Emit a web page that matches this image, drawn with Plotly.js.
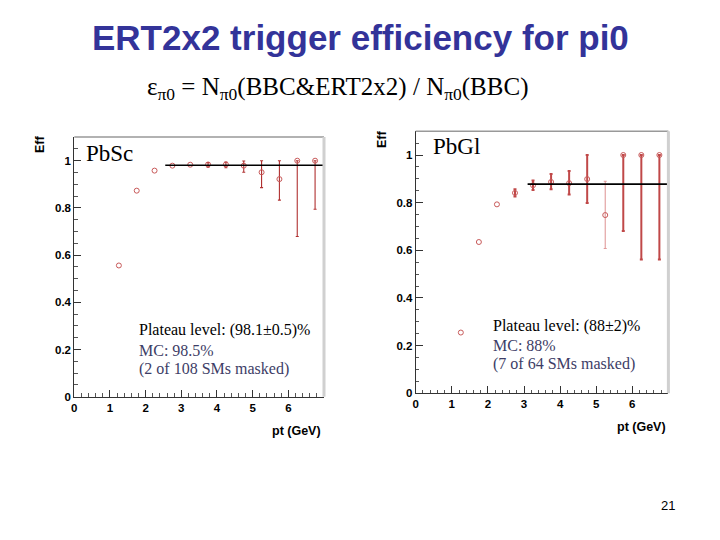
<!DOCTYPE html>
<html><head><meta charset="utf-8">
<script src="https://cdn.plot.ly/plotly-3.0.1.min.js"></script>
<style>html,body{margin:0;padding:0;background:#fff}#c{width:720px;height:540px}</style>
</head><body><div id="c"></div>
<script>
// pt bin centres (GeV)
const pt = [1.25, 1.75, 2.25, 2.75, 3.25, 3.75, 4.25, 4.75, 5.25, 5.75, 6.25, 6.75];
// PbSc efficiency (NaN = error bar too small to be drawn)
const effPbSc   = [0.556, 0.873, 0.958, 0.979, 0.983, 0.984, 0.984, 0.979, 0.951, 0.922, 1.0, 1.0];
const errHiPbSc = [NaN, NaN, NaN, NaN, NaN, 0.008, 0.010, 0.020, 0.049, 0.078, 0, 0];
const errLoPbSc = [NaN, NaN, NaN, NaN, NaN, 0.012, 0.014, 0.028, 0.065, 0.089, 0.321, 0.206];
const fitPbScX = [2.55, 7.0];
const fitPbScY = [0.981, 0.981];
// PbGl efficiency
const effPbGl   = [0.255, 0.635, 0.793, 0.841, 0.873, 0.887, 0.882, 0.899, 0.748, 1.0, 1.0, 1.0];
const errHiPbGl = [NaN, NaN, NaN, 0.015, 0.020, 0.033, 0.051, 0.101, 0.142, 0, 0, 0];
const errLoPbGl = [NaN, NaN, NaN, 0.015, 0.020, 0.031, 0.048, 0.100, 0.140, 0.319, 0.438, 0.438];
const pbGlFaintBars = [8];   // index of the bin drawn with a faint error bar
const fitPbGlX = [3.1, 7.0];
const fitPbGlY = [0.878, 0.878];
const xTicks = [0, 1, 2, 3, 4, 5, 6];
const yTicks = [0, 0.2, 0.4, 0.6, 0.8, 1];
const yTickText = ['0', '0.2', '0.4', '0.6', '0.8', '1'];

const W = 720, H = 540;
const px = v => v / W, py = v => 1 - v / H;

function pts(x, y, hi, lo, xa, ya, ecol, eth) {
  return {
    type: 'scatter', mode: 'markers', x: x, y: y, xaxis: xa, yaxis: ya,
    marker: {symbol: 'circle-open', size: 5, color: '#c85a5a', line: {width: 1}},
    error_y: {type: 'data', symmetric: false, array: hi, arrayminus: lo,
              color: ecol, thickness: eth, width: 1.5},
    showlegend: false, hoverinfo: 'skip'
  };
}
function fit(x, y, xa, ya) {
  return {type: 'scatter', mode: 'lines', x: x, y: y, xaxis: xa, yaxis: ya,
          line: {color: '#000', width: 1.6}, showlegend: false, hoverinfo: 'skip'};
}
const keep = (arr, idx, inSet) => arr.map((v, i) => (pbGlFaintBars.includes(i) === inSet) ? v : NaN);
const mainIdx = false, faintIdx = true;

const data = [
  pts(pt, effPbSc, errHiPbSc, errLoPbSc, 'x', 'y', '#b03030', 1.1),
  fit(fitPbScX, fitPbScY, 'x', 'y'),
  pts(pt.filter((v, i) => !pbGlFaintBars.includes(i)),
      effPbGl.filter((v, i) => !pbGlFaintBars.includes(i)),
      errHiPbGl.filter((v, i) => !pbGlFaintBars.includes(i)),
      errLoPbGl.filter((v, i) => !pbGlFaintBars.includes(i)), 'x2', 'y2', '#c04848', 2),
  pts(pt.filter((v, i) => pbGlFaintBars.includes(i)),
      effPbGl.filter((v, i) => pbGlFaintBars.includes(i)),
      errHiPbGl.filter((v, i) => pbGlFaintBars.includes(i)),
      errLoPbGl.filter((v, i) => pbGlFaintBars.includes(i)), 'x2', 'y2', '#e09a9a', 1.1),
  fit(fitPbGlX, fitPbGlY, 'x2', 'y2')
];

const tickFont = {family: 'Liberation Sans, Arial, sans-serif', size: 11.5, color: '#000', weight: 'bold'};
function xax(d0, d1, anchor) {
  return {domain: [d0, d1], anchor: anchor, range: [0, 7], tickvals: xTicks,
          ticks: 'inside', ticklen: 7, tickcolor: '#333', showgrid: false, zeroline: false,
          showline: true, linecolor: '#333', linewidth: 1, tickfont: tickFont,
          minor: {dtick: 0.2, ticks: 'inside', ticklen: 3.5, tickcolor: '#555', showgrid: false}};
}
function yax(d0, d1, anchor) {
  return {domain: [d0, d1], anchor: anchor, range: [0, 1.1], tickvals: yTicks, ticktext: yTickText,
          ticks: 'inside', ticklen: 7, tickcolor: '#333', showgrid: false, zeroline: false,
          showline: true, linecolor: '#333', linewidth: 1, tickfont: tickFont,
          minor: {dtick: 0.05, ticks: 'inside', ticklen: 3.5, tickcolor: '#555', showgrid: false}};
}

const ann = [];
function A(text, x, y, opts) {
  ann.push(Object.assign({text: text, x: px(x), y: py(y), xref: 'paper', yref: 'paper',
    showarrow: false, xanchor: 'left', yanchor: 'middle'}, opts || {}));
}
const times = 'Liberation Serif, Times New Roman, serif';
const arialB = {family: 'Liberation Sans, Arial, sans-serif', size: 12.5, color: '#000', weight: 'bold'};
A('ERT2x2 trigger efficiency for pi0', 360, 37, {xanchor: 'center',
  font: {family: 'Liberation Sans, Arial, sans-serif', size: 35, color: '#333399', weight: 'bold'}});
A('ε<sub>π0</sub> = N<sub>π0</sub>(BBC&amp;ERT2x2) / N<sub>π0</sub>(BBC)', 337, 88, {xanchor: 'center',
  font: {family: times, size: 25, color: '#000'}});
A('PbSc', 84, 153, {font: {family: times, size: 23, color: '#000'}});
A('PbGl', 431, 147, {font: {family: times, size: 23, color: '#000'}});
A('Plateau level: (98.1±0.5)%', 137, 330, {font: {family: times, size: 16, color: '#000'}});
A('MC: 98.5%', 137, 350, {font: {family: times, size: 16, color: '#3d3d66'}});
A('(2 of 108 SMs masked)', 137, 369, {font: {family: times, size: 16, color: '#3d3d66'}});
A('Plateau level: (88±2)%', 491, 326, {font: {family: times, size: 16, color: '#000'}});
A('MC: 88%', 491, 345, {font: {family: times, size: 16, color: '#3d3d66'}});
A('(7 of 64 SMs masked)', 491, 364, {font: {family: times, size: 16, color: '#3d3d66'}});
A('Eff', 40, 144, {xanchor: 'center', textangle: -90, font: arialB});
A('Eff', 382, 139, {xanchor: 'center', textangle: -90, font: arialB});
A('pt (GeV)', 296, 431, {xanchor: 'center', font: arialB});
A('pt (GeV)', 641, 427, {xanchor: 'center', font: arialB});
A('21', 668, 505, {xanchor: 'center', font: {family: 'Liberation Sans, Arial, sans-serif', size: 13, color: '#000'}});

function frame(xr, yr) {
  return [
    {type: 'line', xref: xr + ' domain', yref: yr + ' domain', x0: 0, x1: 1, y0: 1, y1: 1,
     line: {color: '#999', width: 1.5}},
    {type: 'line', xref: xr + ' domain', yref: yr + ' domain', x0: 1, x1: 1, y0: 0, y1: 1,
     line: {color: '#d0d0d0', width: 3}}
  ];
}

const layout = {
  width: W, height: H, margin: {l: 0, r: 0, t: 0, b: 0},
  paper_bgcolor: '#fff', plot_bgcolor: '#fff', showlegend: false,
  xaxis: xax(px(74.3), px(324), 'y'),
  yaxis: yax(py(396.7), py(137.1), 'x'),
  xaxis2: xax(px(415.7), px(668.4), 'y2'),
  yaxis2: yax(py(393.3), py(131.2), 'x2'),
  annotations: ann,
  shapes: frame('x', 'y').concat(frame('x2', 'y2'))
};
Plotly.newPlot('c', data, layout, {staticPlot: true});
</script></body></html>
